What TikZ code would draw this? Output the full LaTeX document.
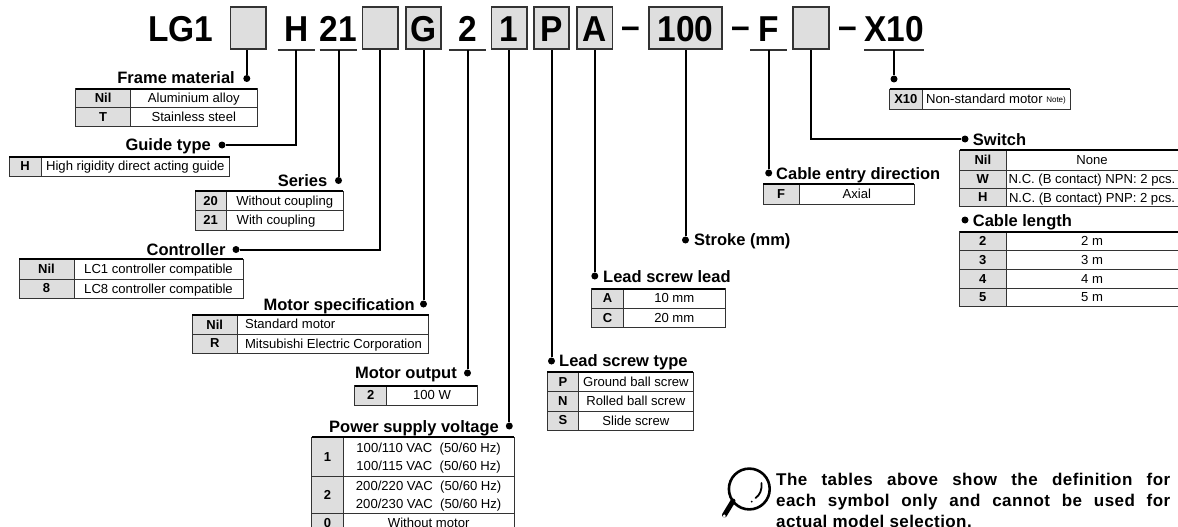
\documentclass[tikz,border=0pt]{standalone}
\usepackage{fontspec}
\setmainfont{Liberation Sans}
\newfontfamily\heavyfont[FakeStretch=0.93]{Liberation Sans}
\newfontfamily\notefont[LetterSpace=2.5]{Liberation Sans}
\definecolor{symgray}{gray}{0.87}
\definecolor{gridgray}{gray}{0.2}
\tikzset{
  symbox/.style={draw=gridgray, line width=1.8pt, fill=symgray, minimum width=35.5pt, minimum height=42pt, inner sep=0pt,
    font=\heavyfont\bfseries\fontsize{36}{36}\selectfont, text height=27.7pt, text depth=0pt},
  symbar/.style={minimum width=37pt, minimum height=43.7pt, inner sep=0pt,
    font=\heavyfont\bfseries\fontsize{36}{36}\selectfont, text height=27.7pt, text depth=0pt},
  symtext/.style={inner sep=0pt, anchor=base, font=\heavyfont\bfseries\fontsize{36}{36}\selectfont},
  underbar/.style={line width=1.5pt, gridgray},
  leader/.style={line width=2pt, black},
  jointdot/.style={circle, fill=black, inner sep=0pt, minimum size=7pt},
  kindleft/.style={inner sep=0pt, anchor=base east, font=\bfseries\fontsize{16.5}{18}\selectfont},
  kindright/.style={inner sep=0pt, anchor=base west, font=\bfseries\fontsize{16.5}{18}\selectfont},
  gridline/.style={line width=0.9pt, draw=gridgray},
  toprule/.style={line width=1.8pt, black},
  codetext/.style={inner sep=0pt, font=\bfseries\fontsize{13}{15}\selectfont},
  rowtext/.style={inner sep=0pt, align=center, yshift=-1.2pt, font=\fontsize{13.1}{18.4}\selectfont},
}
% one table row: name, x left, x split, x right, y top, y bottom, code, text
\newcommand{\symrow}[8]{
  \draw[gridline, fill=symgray] (#2,#5) rectangle (#3,#6) node[midway, codetext] (#1code) {#7};
  \draw[gridline] (#3,#5) rectangle (#4,#6) node[midway, rowtext] (#1text) {\vphantom{(g}#8};
}
% text of a row that runs off the right edge
\newcommand{\cutcell}[1]{\makebox[172pt]{#1\hspace*{6pt}}}
\begin{document}
\begin{tikzpicture}[x=1pt, y=-1pt]
  \clip (0,0) rectangle (1178,527);
  % model code
  \node[symtext] (lgname) at (181,41.7) {LG1};
  \node[symbox] (framecode) at (248.3,27.85) {};
  \node[symbar] (guidecode) at (296.3,27.85) {H};
  \node[symbar] (seriescode) at (338.5,27.85) {21};
  \node[symbox] (ctrlcode) at (380.3,27.85) {};
  \node[symbox] (speccode) at (423.5,27.85) {G};
  \node[symbar] (outputcode) at (467.5,27.85) {2};
  \node[symbox] (powercode) at (509.3,27.85) {1};
  \node[symbox] (typecode) at (551.5,27.85) {P};
  \node[symbox] (leadcode) at (594.8,27.85) {A};
  \node[symtext] (dashA) at (630.5,38.5) {–};
  \node[symbox, minimum width=73pt] (strokecode) at (685.5,27.85) {100};
  \node[symtext] (dashB) at (741,38.5) {–};
  \node[symbar] (entrycode) at (768.7,27.85) {F};
  \node[symbox] (switchcode) at (811,27.85) {};
  \node[symtext] (dashC) at (847.5,38.5) {–};
  \node[symbar, minimum width=58pt] (optcode) at (894,27.85) {X10};
  % underlines
  \foreach \bar in {guidecode, seriescode, outputcode, entrycode, optcode}
    \draw[underbar] (\bar.south west) -- (\bar.south east);
  % Frame material
  \node[jointdot] (framedot) at (246.8,78.5) {};
  \node[kindleft] (frametitle) at (235,84) {Frame material};
  \draw[leader] (framedot) -- (framedot |- framecode.south);
  \symrow{frameNil}{75.8}{130.5}{257}{88.7}{107.7}{Nil}{Aluminium alloy}
  \symrow{frameT}{75.8}{130.5}{257}{107.7}{126.7}{T}{Stainless steel}
  \draw[toprule] (75.8,88.7) -- (257,88.7);
  % Guide type
  \node[jointdot] (guidedot) at (222,145) {};
  \node[kindleft] (guidetitle) at (211,150.7) {Guide type};
  \draw[leader] (guidedot) -| (guidecode.south);
  \symrow{guideH}{9}{41}{229.6}{156.7}{176}{H}{High rigidity direct acting guide}
  \draw[toprule] (9,156.7) -- (229.6,156.7);
  % Series
  \node[jointdot] (seriesdot) at (338.5,180.5) {};
  \node[kindleft] (seriestitle) at (327.5,186) {Series};
  \draw[leader] (seriesdot) -- (seriescode.south);
  \symrow{seriesA}{195}{226.4}{343}{191}{210.7}{20}{Without coupling}
  \symrow{seriesB}{195}{226.4}{343}{210.7}{230}{21}{\makebox[96pt][l]{With coupling}}
  \draw[toprule] (195,191) -- (343,191);
  % Controller
  \node[jointdot] (ctrldot) at (236,249.5) {};
  \node[kindleft] (ctrltitle) at (225.7,255) {Controller};
  \draw[leader] (ctrldot) -| (ctrlcode.south);
  \symrow{ctrlNil}{19}{74}{243}{259.3}{279}{Nil}{LC1 controller compatible}
  \symrow{ctrlB}{19}{74}{243}{279}{298}{8}{LC8 controller compatible}
  \draw[toprule] (19,259.3) -- (243,259.3);
  % Motor specification
  \node[jointdot] (specdot) at (423.5,304) {};
  \node[kindleft] (spectitle) at (415,310) {Motor specification};
  \draw[leader] (specdot) -- (speccode.south);
  \symrow{specNil}{192}{237.5}{428.6}{314.7}{334}{Nil}{\makebox[176pt][l]{Standard motor}}
  \symrow{specR}{192}{237.5}{428.6}{334}{353}{R}{\makebox[176pt][l]{Mitsubishi Electric Corporation}}
  \draw[toprule] (192,314.7) -- (428.6,314.7);
  % Motor output
  \node[jointdot] (outputdot) at (467.5,373) {};
  \node[kindleft] (outputtitle) at (457,378.5) {Motor output};
  \draw[leader] (outputdot) -- (outputcode.south);
  \symrow{outputB}{354.7}{386.7}{477.3}{385.7}{405}{2}{100 W}
  \draw[toprule] (354.7,385.7) -- (477.3,385.7);
  % Power supply voltage
  \node[jointdot] (powerdot) at (509.3,426) {};
  \node[kindleft] (powertitle) at (499,432) {Power supply voltage};
  \draw[leader] (powerdot) -- (powercode.south);
  \symrow{powerA}{311.7}{343.3}{514}{437.3}{476}{1}{100/110 VAC~~(50/60 Hz)\\100/115 VAC~~(50/60 Hz)}
  \symrow{powerB}{311.7}{343.3}{514}{476}{513.3}{2}{200/220 VAC~~(50/60 Hz)\\200/230 VAC~~(50/60 Hz)}
  \symrow{powerC}{311.7}{343.3}{514}{513.3}{533}{0}{Without motor}
  \draw[toprule] (311.7,437.3) -- (514,437.3);
  % Lead screw type
  \node[jointdot] (typedot) at (551.5,361) {};
  \node[kindright] (typetitle) at (559,366.7) {Lead screw type};
  \draw[leader] (typedot) -- (typecode.south);
  \symrow{typeP}{547}{578.7}{693}{372}{391.7}{P}{Ground ball screw}
  \symrow{typeN}{547}{578.7}{693}{391.7}{411}{N}{Rolled ball screw}
  \symrow{typeS}{547}{578.7}{693}{411}{430}{S}{Slide screw}
  \draw[toprule] (547,372) -- (693,372);
  % Lead screw lead
  \node[jointdot] (leaddot) at (594.8,276) {};
  \node[kindright] (leadtitle) at (603,282.7) {Lead screw lead};
  \draw[leader] (leaddot) -- (leadcode.south);
  \symrow{leadA}{591.7}{623.3}{725.3}{288.7}{308}{A}{10 mm}
  \symrow{leadC}{591.7}{623.3}{725.3}{308}{327.3}{C}{20 mm}
  \draw[toprule] (591.7,288.7) -- (725.3,288.7);
  % Stroke
  \node[jointdot] (strokedot) at (685.5,240) {};
  \node[kindright] (stroketitle) at (694,245.7) {Stroke (mm)};
  \draw[leader] (strokedot) -- (strokecode.south);
  % Cable entry direction
  \node[jointdot] (entrydot) at (768.7,173) {};
  \node[kindright] (entrytitle) at (776,179) {Cable entry direction};
  \draw[leader] (entrydot) -- (entrycode.south);
  \symrow{entryF}{763}{799.3}{914.3}{184}{204.7}{F}{Axial}
  \draw[toprule] (763,184) -- (914.3,184);
  % Switch
  \node[jointdot] (switchdot) at (965,139) {};
  \node[kindright] (switchtitle) at (972.7,145) {Switch};
  \draw[leader] (switchdot) -| (switchcode.south);
  \symrow{switchNil}{959.7}{1006}{1184}{150}{170}{Nil}{\cutcell{None}}
  \symrow{switchW}{959.7}{1006}{1184}{170}{188.3}{W}{\cutcell{N.C. (B contact) NPN: 2 pcs.}}
  \symrow{switchH}{959.7}{1006}{1184}{188.3}{206.7}{H}{\cutcell{N.C. (B contact) PNP: 2 pcs.}}
  \draw[toprule] (959.7,150) -- (1184,150);
  % Cable length
  \node[jointdot] (lengthdot) at (965,220) {};
  \node[kindright] (lengthtitle) at (972.7,226) {Cable length};
  \symrow{lengthB}{959.7}{1006}{1184}{231.7}{250.7}{2}{\cutcell{2 m}}
  \symrow{lengthC}{959.7}{1006}{1184}{250.7}{269.3}{3}{\cutcell{3 m}}
  \symrow{lengthD}{959.7}{1006}{1184}{269.3}{288}{4}{\cutcell{4 m}}
  \symrow{lengthE}{959.7}{1006}{1184}{288}{306}{5}{\cutcell{5 m}}
  \draw[toprule] (959.7,231.7) -- (1184,231.7);
  % Non-standard motor
  \node[jointdot] (optdot) at (894,79) {};
  \draw[leader] (optdot) -- (optcode.south);
  \symrow{optX}{889.7}{922}{1070}{89.3}{109.3}{X10}{Non-standard motor {\fontsize{8}{10}\selectfont\raisebox{1pt}{Note)}}}
  \draw[toprule] (889.7,89.3) -- (1070,89.3);
  % magnifier and note
  \draw[line width=2.6pt] (749.3,489) circle (20.4);
  \draw[line width=5pt, line cap=round] (733,501) -- (724.5,515);
  \fill[white] (724.3,516) circle (1.6);
  \draw[line width=1.8pt, line cap=round] (761.5,483) .. controls (762,490) and (760,495) .. (755.5,498);
  \fill (751.7,501.7) circle (1);
  \node[inner sep=0pt, anchor=north west, align=left,
    font=\notefont\bfseries\fontsize{17}{21}\selectfont] (notetext) at (776,472.5)
    {\makebox[394pt][s]{The tables above show the definition for}\\
     \makebox[394pt][s]{each symbol only and cannot be used for}\\
     actual model selection.};
\end{tikzpicture}
\end{document}
